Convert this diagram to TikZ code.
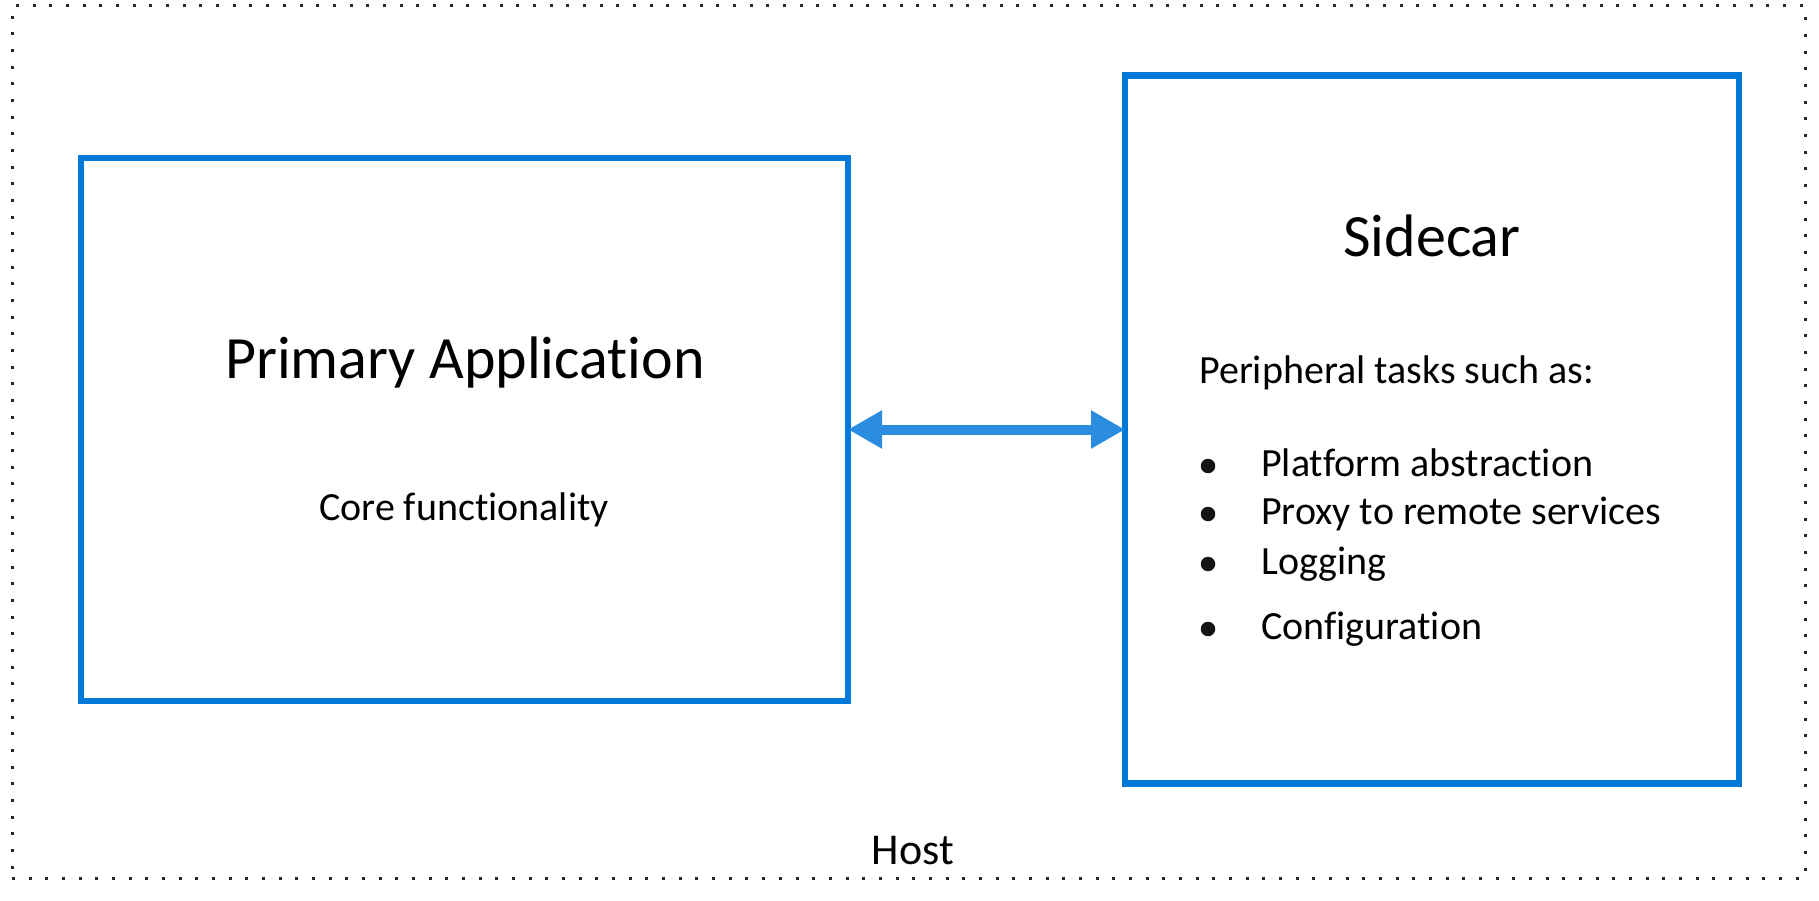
\documentclass[tikz,border=0pt]{standalone}
\usepackage{fontspec}
\setmainfont{Carlito}[Ligatures=NoCommon]
\usetikzlibrary{arrows.meta}
\definecolor{boxblue}{RGB}{0,120,215}
\definecolor{arrowblue}{RGB}{42,141,224}
\definecolor{dotgray}{RGB}{40,40,40}
\begin{document}
\begin{tikzpicture}[x=1pt,y=-1pt,
  box/.style={draw=boxblue,line width=6.5pt,inner sep=0pt,outer sep=0pt,rectangle},
  hostbox/.style={draw=dotgray,line width=3pt,dash pattern=on 3pt off 13.67pt,inner sep=0pt,outer sep=0pt,rectangle},
  big/.style={font=\fontsize{60}{72}\selectfont,anchor=base,inner sep=0pt},
  body/.style={font=\fontsize{40}{48}\selectfont,inner sep=0pt},
  bulletdot/.style={circle,fill=black!92,minimum size=14.5pt,inner sep=0pt},
  biarrow/.style={draw=arrowblue,line width=10pt,{Triangle[length=34pt,width=36pt]}-{Triangle[length=34pt,width=36pt]}}
]
\useasboundingbox (0,0) rectangle (1819,901);
\node[hostbox,minimum width=1793pt,minimum height=872pt] (host) at (908.5,442) {};
\node[box,minimum width=767pt,minimum height=543pt] (primary) at (464.5,429.5) {};
\node[box,minimum width=614pt,minimum height=708pt] (sidecar) at (1432,429.5) {};
\node[big] (ptitle) at (465,378) {Primary Application};
\node[body,anchor=base] (pcore) at (464,520) {Core functionality};
\node[big] (stitle) at (1432,256) {Sidecar};
\node[body,anchor=base west] (speri) at (1199,383) {Peripheral tasks such as:};
\node[body,anchor=base west] (t1) at (1261,476) {Platform abstraction};
\node[body,anchor=base west] (t2) at (1261,524) {Proxy to remote services};
\node[body,anchor=base west] (t3) at (1261,574) {Logging};
\node[body,anchor=base west] (t4) at (1261,639) {Configuration};
\node[bulletdot] (b1) at (1208,466) {};
\node[bulletdot] (b2) at (1208,514) {};
\node[bulletdot] (b3) at (1208,564) {};
\node[bulletdot] (b4) at (1208,629) {};
\node[font=\fontsize{44}{52}\selectfont,anchor=base,inner sep=0pt] (hostlabel) at (913,864) {Host};
\draw[biarrow] (primary.east) -- (sidecar.west);
\end{tikzpicture}
\end{document}
